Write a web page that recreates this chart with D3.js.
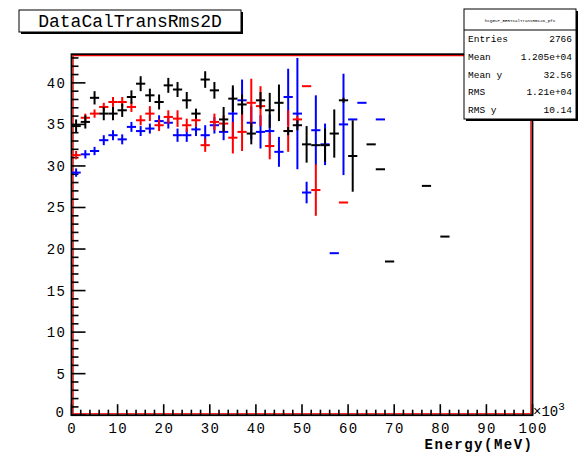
<!DOCTYPE html>
<html>
<head>
<meta charset="utf-8">
<script src="https://cdn.jsdelivr.net/npm/d3@7"></script>
<style>
  html, body { margin: 0; padding: 0; background: #fff; }
  svg { display: block; }
  text { font-family: "Liberation Mono", "DejaVu Sans Mono", monospace; }
</style>
</head>
<body>
<svg id="chart" width="579" height="455"></svg>
<script>
// Profile bins: centre energy (x10^3 MeV), mean value, error on the mean
const blackX   = [1, 3, 5, 7, 9, 11, 13, 15, 17, 19, 21, 23, 25, 27, 29, 31, 33, 35, 37, 39, 41, 43, 45, 47, 49, 51, 53, 55, 57, 59, 61, 65, 67, 69, 77, 81];
const blackY   = [34.8, 35.3, 38.2, 36.3, 36.3, 36.7, 38.3, 39.9, 38.5, 37.7, 39.7, 39.2, 37.9, 36.3, 40.4, 39.1, 35.6, 38.1, 37.4, 33.9, 37.9, 36.7, 37.6, 34.2, 34.9, 32.6, 32.5, 32.5, 33.9, 37.9, 31.2, 32.6, 29.6, 18.5, 27.6, 21.5];
const blackErr = [0.8, 0.8, 0.8, 0.8, 0.8, 0.8, 0.8, 0.9, 0.8, 0.9, 0.9, 0.9, 1.0, 0.6, 1.0, 1.0, 1.5, 1.6, 1.2, 1.3, 1.0, 2.1, 2.2, 0.5, 0.6, 2.2, 0, 2.0, 2.9, 0.3, 4.3, 0, 0, 0, 0, 0];

const redX   = [1, 3, 5, 7, 9, 11, 13, 15, 17, 19, 21, 23, 25, 27, 29, 31, 33, 35, 37, 39, 41, 43, 47, 49, 51, 53, 59];
const redY   = [31.3, 35.8, 36.3, 37.1, 37.7, 37.7, 37.1, 35.5, 36.3, 34.9, 35.9, 35.7, 34.9, 35.5, 32.5, 35.3, 35.1, 33.4, 34.1, 37.6, 37.2, 32.4, 34.2, 35.6, 39.6, 27.1, 25.6];
const redErr = [0.5, 0.5, 0.5, 0.5, 0.6, 0.6, 0.6, 0.6, 0.9, 0.7, 0.8, 1.0, 0.8, 0.8, 0.8, 1.0, 1.0, 1.9, 2.3, 2.9, 2.4, 1.6, 2.5, 0.4, 0, 3.1, 0];

const blueX   = [1, 3, 5, 7, 9, 11, 13, 15, 17, 19, 21, 23, 25, 27, 29, 31, 33, 35, 37, 39, 41, 43, 45, 47, 49, 51, 53, 55, 57, 59, 61, 63, 67];
const blueY   = [29.2, 31.4, 31.8, 33.1, 33.7, 33.2, 34.7, 34.2, 34.5, 35.4, 35.2, 33.7, 33.7, 34.4, 33.7, 34.9, 34.1, 36.3, 37.9, 35.2, 34.1, 34.2, 31.7, 38.3, 36.3, 26.8, 34.3, 32.6, 19.5, 35.0, 35.6, 37.6, 35.6];
const blueErr = [0.5, 0.5, 0.5, 0.6, 0.6, 0.6, 0.6, 0.6, 0.6, 0.7, 0.7, 0.8, 0.8, 0.8, 1.2, 1.0, 1.0, 3.0, 2.5, 2.0, 2.0, 2.0, 1.8, 3.4, 6.7, 1.3, 4.2, 2.5, 0, 6.1, 0, 0, 0];

const binHalfWidth = 1;          // bins are 2 x10^3 MeV wide
const xTickValues = [0, 10, 20, 30, 40, 50, 60, 70, 80, 90, 100];
const yTickValues = [0, 5, 10, 15, 20, 25, 30, 35, 40];

const statLabels = ["Entries", "Mean", "Mean y", "RMS", "RMS y"];
const statValues = ["2766", "1.205e+04", "32.56", "1.21e+04", "10.14"];

const titleText = "DataCalTransRms2D";
const statsName = "hcQGSP_BERTCalTransRms2D_pfx";
const xTitle = "Energy(MeV)";

const svg = d3.select("#chart");

const frame = { left: 71.5, right: 532.5, top: 54.2, bottom: 415.2 };
const x = d3.scaleLinear().domain([0, 100]).range([frame.left, frame.right]);
const y = d3.scaleLinear().domain([0, 43.45]).range([frame.bottom, frame.top]);

// Frame: black border with a thin red line just inside it
svg.append("rect")
  .attr("x", frame.left + 1.6).attr("y", frame.top + 1.4)
  .attr("width", frame.right - frame.left - 3.2)
  .attr("height", frame.bottom - frame.top - 2.8)
  .attr("fill", "none").attr("stroke", "#ff0000").attr("stroke-width", 1.3);
svg.append("rect")
  .attr("x", frame.left).attr("y", frame.top)
  .attr("width", frame.right - frame.left)
  .attr("height", frame.bottom - frame.top)
  .attr("fill", "none").attr("stroke", "#000").attr("stroke-width", 1.8);

// Ticks pointing into the frame
const xMinor = d3.range(0, 100.001, 2);
const yMinor = d3.range(0, 43.45, 1);
const tickG = svg.append("g").attr("stroke", "#000").attr("stroke-width", 1.6);
tickG.selectAll(".xt").data(xMinor).join("line")
  .attr("x1", d => x(d)).attr("x2", d => x(d))
  .attr("y1", frame.bottom)
  .attr("y2", d => frame.bottom - (d % 10 === 0 ? 11 : 5.5));
tickG.selectAll(".yt").data(yMinor).join("line")
  .attr("y1", d => y(d)).attr("y2", d => y(d))
  .attr("x1", frame.left)
  .attr("x2", d => frame.left + (d % 5 === 0 ? 14 : 7));

// Tick labels
svg.append("g").selectAll("text").data(xTickValues).join("text")
  .attr("x", d => x(d) + 0.7).attr("y", 433)
  .attr("text-anchor", "middle").attr("font-size", 14).attr("letter-spacing", 1.4)
  .text(d => d);
svg.append("g").selectAll("text").data(yTickValues).join("text")
  .attr("x", d => d === 0 ? 65 : 66).attr("y", d => y(d) + 5 - (d === 0 ? 3 : 0))
  .attr("text-anchor", "end").attr("font-size", 14).attr("letter-spacing", 1.2)
  .text(d => d);

// Exponent and axis title
const expo = svg.append("text").attr("x", 533).attr("y", 416).attr("font-size", 14);
expo.append("tspan").text("\u00d710");
expo.append("tspan").attr("dy", -6).attr("font-size", 11).text("3");
svg.append("text").attr("x", frame.right + 1).attr("y", 449)
  .attr("text-anchor", "end").attr("font-size", 14).attr("font-weight", "bold")
  .attr("letter-spacing", 1.5)
  .text(xTitle);

// Profile markers: horizontal bin-width bar plus vertical error bar
function drawProfile(xs, ys, errs, color) {
  const pts = xs.map((c, i) => ({ c, v: ys[i], e: errs[i] }));
  const g = svg.append("g").attr("stroke", color).attr("stroke-width", 2);
  g.selectAll(".h").data(pts).join("line")
    .attr("x1", d => x(d.c - binHalfWidth)).attr("x2", d => x(d.c + binHalfWidth))
    .attr("y1", d => y(d.v)).attr("y2", d => y(d.v));
  g.selectAll(".v").data(pts.filter(d => d.e > 0)).join("line")
    .attr("x1", d => x(d.c)).attr("x2", d => x(d.c))
    .attr("y1", d => y(d.v - d.e)).attr("y2", d => y(d.v + d.e));
}
drawProfile(blueX, blueY, blueErr, "#0000ff");
drawProfile(redX, redY, redErr, "#ff0000");
drawProfile(blackX, blackY, blackErr, "#000000");

// Title box with drop shadow
const tb = { x: 19, y: 10, w: 222, h: 22 };
svg.append("rect").attr("x", tb.x + 2).attr("y", tb.y + 2).attr("width", tb.w).attr("height", tb.h).attr("fill", "#000");
svg.append("rect").attr("x", tb.x).attr("y", tb.y).attr("width", tb.w).attr("height", tb.h)
  .attr("fill", "#fff").attr("stroke", "#000").attr("stroke-width", 1);
svg.append("text").attr("x", tb.x + tb.w / 2).attr("y", tb.y + 16.5)
  .attr("text-anchor", "middle").attr("font-size", 18).text(titleText);

// Statistics box
const sb = { x: 464, y: 9, w: 112, h: 110, head: 21 };
svg.append("rect").attr("x", sb.x + 2).attr("y", sb.y + 2).attr("width", sb.w).attr("height", sb.h).attr("fill", "#000");
svg.append("rect").attr("x", sb.x).attr("y", sb.y).attr("width", sb.w).attr("height", sb.h)
  .attr("fill", "#fff").attr("stroke", "#000").attr("stroke-width", 1);
svg.append("line").attr("x1", sb.x).attr("x2", sb.x + sb.w)
  .attr("y1", sb.y + sb.head).attr("y2", sb.y + sb.head).attr("stroke", "#000");
svg.append("text").attr("x", sb.x + sb.w / 2).attr("y", sb.y + 12.5)
  .attr("text-anchor", "middle").attr("font-size", 4.2).attr("font-family", "Liberation Serif")
  .text(statsName);
const rowH = (sb.h - sb.head) / statLabels.length;
statLabels.forEach((lab, i) => {
  const yy = sb.y + sb.head + rowH * (i + 0.5) + 3;
  svg.append("text").attr("x", sb.x + 4).attr("y", yy).attr("font-size", 9.5).text(lab);
  svg.append("text").attr("x", sb.x + sb.w - 4).attr("y", yy)
    .attr("text-anchor", "end").attr("font-size", 9.5).text(statValues[i]);
});
</script>
</body>
</html>
